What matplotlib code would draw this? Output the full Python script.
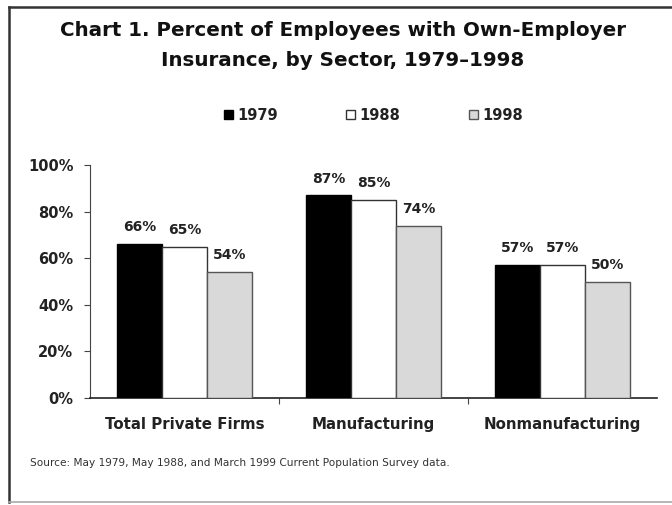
import matplotlib
matplotlib.use("Agg")
import matplotlib.pyplot as plt
import numpy as np
from matplotlib.patches import Rectangle
from matplotlib.lines import Line2D

categories = ["Total Private Firms", "Manufacturing", "Nonmanufacturing"]
years = ["1979", "1988", "1998"]
values_1979 = [66, 87, 57]
values_1988 = [65, 85, 57]
values_1998 = [54, 74, 50]
y_ticks = [0, 20, 40, 60, 80, 100]
y_tick_labels = ["0%", "20%", "40%", "60%", "80%", "100%"]

series = [values_1979, values_1988, values_1998]
faces = ["#000000", "#ffffff", "#d9d9d9"]
edges = ["#000000", "#333333", "#555555"]

fig = plt.figure(figsize=(6.72, 5.05), dpi=100)
ax = fig.add_axes([90/672, 1-398/505, (657-90)/672, (398-165)/505])

x = np.arange(len(categories))
w = 0.238
for i, (vals, fc, ec) in enumerate(zip(series, faces, edges)):
    bars = ax.bar(x + (i-1)*w, vals, width=w, color=fc, edgecolor=ec,
                  linewidth=1.0, label=years[i], zorder=3)
    for b, v in zip(bars, vals):
        ax.annotate(f"{v}%", (b.get_x()+b.get_width()/2, v), xytext=(0, 7),
                    textcoords="offset points", ha="center", va="bottom",
                    fontsize=10, fontweight="bold", color="#222222")

ax.set_xlim(-0.5, 2.5)
ax.set_ylim(0, 100)
ax.set_yticks(y_ticks)
ax.set_yticklabels(y_tick_labels, fontsize=10.5, fontweight="bold", color="#222222")
ax.set_xticks([0.5, 1.5])
ax.set_xticklabels([])
ax.tick_params(axis="x", length=4, direction="out", color="#444444")
ax.tick_params(axis="y", length=4, direction="out", color="#444444", pad=8)
for c, lab in zip(x, categories):
    ax.text(c, -8, lab, ha="center", va="top", fontsize=10.8, fontweight="bold",
            color="#222222", transform=ax.transData)
for s in ["top", "right"]:
    ax.spines[s].set_visible(False)
ax.spines["left"].set_color("#444444")
ax.spines["bottom"].set_color("#222222")
ax.spines["bottom"].set_linewidth(1.2)

# legend
handles = [Rectangle((0, 0), 1, 1, facecolor=fc, edgecolor=ec, linewidth=1.0)
           for fc, ec in zip(faces, edges)]
leg = fig.legend(handles, years, loc="center", bbox_to_anchor=(373.5/672, 1-115/505),
                 ncol=3, frameon=False, handlelength=0.6, handleheight=0.6,
                 handletextpad=0.3, columnspacing=4.7,
                 prop={"weight": "bold", "size": 10.5})
for t in leg.get_texts():
    t.set_color("#222222")

fig.text(343/672, 1-31/505, "Chart 1. Percent of Employees with Own-Employer",
         ha="center", va="center", fontsize=14.3, fontweight="bold", color="#111111")
fig.text(343/672, 1-60/505, "Insurance, by Sector, 1979\u20131998",
         ha="center", va="center", fontsize=14.3, fontweight="bold", color="#111111")

fig.text(30/672, 1-463/505,
         "Source: May 1979, May 1988, and March 1999 Current Population Survey data.",
         ha="left", va="center", fontsize=7.6, color="#333333")

# frame
fig.add_artist(Line2D([9/672, 9/672], [1-7/505, 1-502/505], transform=fig.transFigure,
                      color="#333333", linewidth=1.8))
fig.add_artist(Line2D([9/672, 1], [1-7/505, 1-7/505], transform=fig.transFigure,
                      color="#333333", linewidth=1.8))
fig.add_artist(Line2D([9/672, 1], [1-502/505, 1-502/505], transform=fig.transFigure,
                      color="#aaaaaa", linewidth=1.2))

fig.savefig("out.png", dpi=100)
